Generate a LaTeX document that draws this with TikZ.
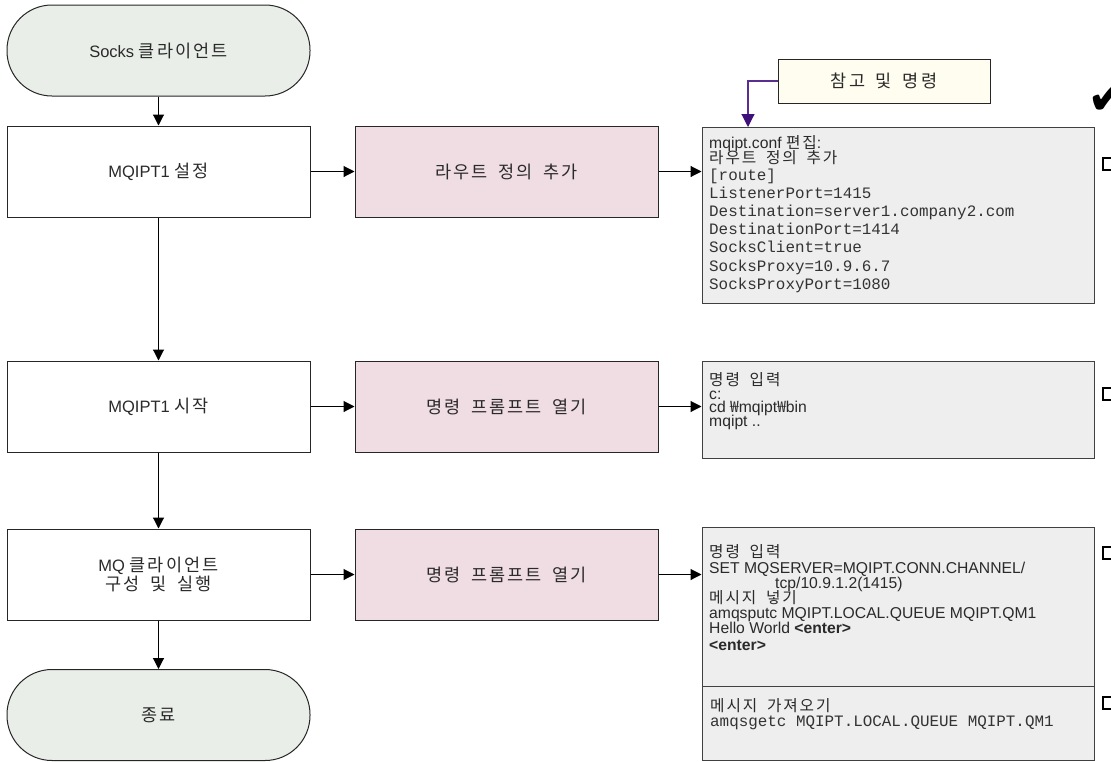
\documentclass[tikz,border=0pt]{standalone}
\usepackage{fontspec}
\setmainfont{Liberation Sans}
\setmonofont{Liberation Mono}
\newfontfamily\krfont[WordSpace=1.8,LetterSpace=12]{Noto Sans CJK KR}
\newfontfamily\symfont{DejaVu Sans}
\newcommand\KR[1]{{\krfont #1}}
\newcommand\KB[1]{{\krfont\fontsize{17.5}{18.5}\selectfont #1}}
\usetikzlibrary{arrows.meta}
\definecolor{termfill}{HTML}{E9EFE8}
\definecolor{pinkfill}{HTML}{F0DCE3}
\definecolor{grayfill}{HTML}{EEEEEE}
\definecolor{notefill}{HTML}{FFFDF0}
\definecolor{txt}{HTML}{2A2A2A}
\definecolor{purp}{HTML}{5A2D91}
\definecolor{purphead}{HTML}{40107A}
\begin{document}
\begin{tikzpicture}[x=1pt,y=-1pt,
  base/.style={draw=black!85,line width=1pt,text=txt,inner sep=2pt,align=center,
    font=\fontsize{16.5}{18.5}\selectfont},
  term/.style={base,fill=termfill,minimum width=303pt,minimum height=91pt,rounded corners=45pt},
  stepbox/.style={base,fill=white,minimum width=303pt,minimum height=91pt},
  pinkbox/.style={base,fill=pinkfill,minimum width=303pt,minimum height=91pt},
  graybox/.style={draw=black!75,line width=1pt,fill=grayfill,inner sep=0pt,minimum width=392pt},
  notebox/.style={base,fill=notefill,minimum width=212pt,minimum height=44pt},
  ln/.style={anchor=base west,inner sep=0pt,text=txt,font=\fontsize{15.7}{16}\selectfont},
  mono/.style={anchor=base west,inner sep=0pt,text=black!80,font=\ttfamily\fontsize{15.9}{16}\selectfont},
  arr/.style={line width=1.1pt,draw=black,-{Triangle[length=11pt,width=11pt]}},
  parr/.style={line width=1.1pt,draw=purp,-{Triangle[length=13pt,width=13pt,fill=purphead,color=purphead]}},
  chk/.style={draw=black,line width=1.1pt,fill=white,minimum size=12pt,inner sep=0pt}
]
\useasboundingbox (0,0) rectangle (1111,761);
\fill[white] (0,0) rectangle (1111,761);

% left column
\node[term] (t1) at (158.5,50.5) {Socks \KB{클라이언트}};
\node[stepbox] (b1) at (158.5,171.5) {MQIPT1 \KB{설정}};
\node[stepbox] (b2) at (158.5,406.5) {MQIPT1 \KB{시작}};
\node[stepbox] (b3) at (158.5,574.5) {MQ \KB{클라이언트}\\\KB{구성 및 실행}};
\node[term] (t2) at (158.5,715) {\KB{종료}};

% middle column
\node[pinkbox] (p1) at (506.5,171.5) {\KB{라우트 정의 추가}};
\node[pinkbox] (p2) at (506.5,406.5) {\KB{명령 프롬프트 열기}};
\node[pinkbox] (p3) at (506.5,574.5) {\KB{명령 프롬프트 열기}};

% right column
\node[graybox,minimum height=176pt] (g1) at (898,215) {};
\node[graybox,minimum height=97pt] (g2) at (898,409.5) {};
\node[graybox,minimum height=159pt] (g3) at (898,606.5) {};
\node[graybox,minimum height=74pt] (g4) at (898,723) {};

\node[notebox] (n) at (884,81) {\KB{참고 및 명령}};
\coordinate (gk) at (748,127);

% texts in box 1
\node[ln] (g1a) at (709,148) {mqipt.conf \KR{편집}:};
\node[ln] (g1b) at (709,163.5) {\KR{라우트 정의 추가}};
\node[mono] (g1c) at (709,180) {[route]};
\node[mono] (g1d) at (709,198) {ListenerPort=1415};
\node[mono] (g1e) at (709,216.3) {Destination=server1.company2.com};
\node[mono] (g1f) at (709,234.6) {DestinationPort=1414};
\node[mono] (g1g) at (709,252.8) {SocksClient=true};
\node[mono] (g1h) at (709,271) {SocksProxy=10.9.6.7};
\node[mono] (g1i) at (709,289.2) {SocksProxyPort=1080};

% texts in box 2
\node[ln] (g2a) at (709,385) {\KR{명령 입력}};
\node[ln] (g2b) at (709,399) {c:};
\node[ln] (g2c) at (709,412.5) {cd \KR{₩}mqipt\KR{₩}bin};
\node[ln] (g2d) at (709,426) {mqipt ..};

% texts in box 3
\node[ln] (g3a) at (709,557.5) {\KR{명령 입력}};
\node[ln] (g3b) at (709,573.5) {SET MQSERVER=MQIPT.CONN.CHANNEL/};
\node[ln] (g3c) at (775,588) {tcp/10.9.1.2(1415)};
\node[ln] (g3d) at (709,603) {\KR{메시지 넣기}};
\node[ln] (g3e) at (709,618) {amqsputc MQIPT.LOCAL.QUEUE MQIPT.QM1};
\node[ln] (g3f) at (709,633.5) {Hello World \textbf{<enter>}};
\node[ln] (g3g) at (709,650) {\textbf{<enter>}};

% texts in box 4
\node[ln] (g4a) at (710,711) {\KR{메시지 가져오기}};
\node[mono] (g4b) at (710,726.5) {amqsgetc MQIPT.LOCAL.QUEUE MQIPT.QM1};

% checkboxes and check mark
\node[chk] (c1) at (1109,164) {};
\node[chk] (c2) at (1109,394) {};
\node[chk] (c3) at (1109,553) {};
\node[chk] (c4) at (1109,703) {};
\node[inner sep=0pt,font=\symfont\fontsize{50}{50}\selectfont] (ck) at (1108,99) {✔};

% connectors
\draw[arr] (t1) -- (b1);
\draw[arr] (b1) -- (b2);
\draw[arr] (b2) -- (b3);
\draw[arr] (b3) -- (t2);
\draw[arr] (b1) -- (p1);
\draw[arr] (b2) -- (p2);
\draw[arr] (b3) -- (p3);
\draw[arr] (p1.east) -- (p1.east -| g1.west);
\draw[arr] (p2.east) -- (p2.east -| g2.west);
\draw[arr] (p3.east) -- (p3.east -| g3.west);
\draw[parr] (n.west) -| (gk);
\end{tikzpicture}
\end{document}
